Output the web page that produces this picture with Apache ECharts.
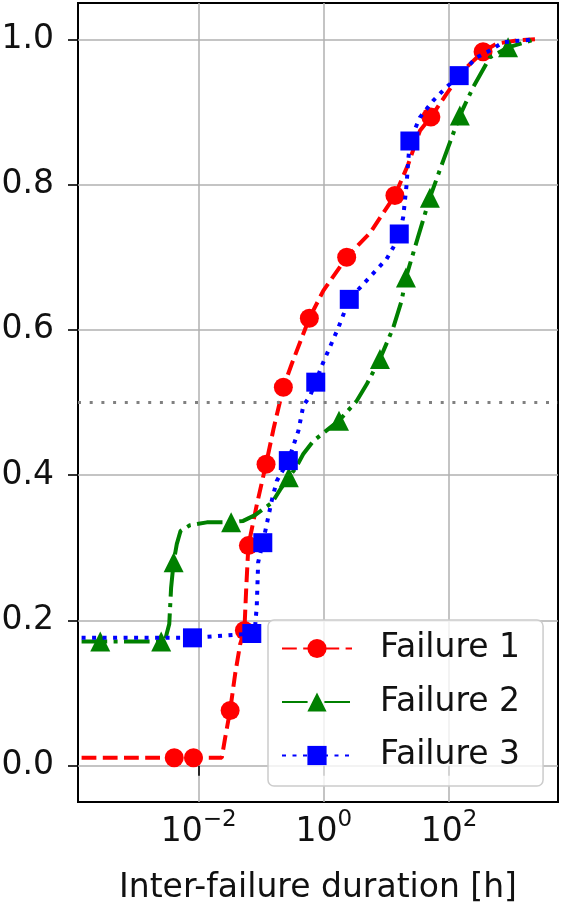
<!DOCTYPE html>
<html>
<head>
<meta charset="utf-8">
<script src="https://cdn.jsdelivr.net/npm/echarts@6/dist/echarts.min.js"></script>
<style>
  html, body { margin: 0; padding: 0; background: #ffffff; }
  #chart { width: 563px; height: 903px; }
</style>
</head>
<body>
<div id="chart"></div>
<script>
// Empirical CDFs of inter-failure durations (hours) for three failure types.
// *LineX / *LineY trace each curve; *MarkX / *MarkY are the marked samples.

const f1LineX = [0.000135, 0.0234, 0.0265, 0.0382, 0.0459, 0.0575, 0.0851, 0.158, 0.306, 0.98, 5.5, 22.2, 34.1, 90.8, 167, 570, 1349, 2344];
const f1LineY = [0.011, 0.011, 0.0386, 0.126, 0.167, 0.245, 0.36, 0.465, 0.553, 0.654, 0.734, 0.828, 0.874, 0.925, 0.957, 0.994, 0.999, 1.0];
const f1MarkX = [0.00407, 0.00826, 0.0318, 0.0537, 0.0622, 0.119, 0.225, 0.585, 2.31, 13.6, 51.1, 348];
const f1MarkY = [0.011, 0.011, 0.076, 0.186, 0.303, 0.415, 0.521, 0.616, 0.700, 0.785, 0.893, 0.983];

const f2LineX = [0.000135, 0.00295, 0.00339, 0.00363, 0.00447, 0.00513, 0.00724, 0.0135, 0.0513, 0.0794, 0.148, 0.2, 0.355, 0.468, 0.676, 3.33, 4.82, 12.8, 17.4, 31.6, 80.4, 241.5, 445.7, 2344];
const f2LineY = [0.171, 0.175, 0.195, 0.245, 0.305, 0.323, 0.331, 0.335, 0.337, 0.345, 0.362, 0.38, 0.41, 0.429, 0.447, 0.502, 0.525, 0.603, 0.640, 0.727, 0.833, 0.934, 0.975, 1.0];
const f2MarkX = [0.000268, 0.00252, 0.00398, 0.033, 0.275, 1.74, 7.85, 20.4, 49.2, 148, 873];
const f2MarkY = [0.171, 0.171, 0.28, 0.335, 0.397, 0.475, 0.560, 0.672, 0.782, 0.895, 0.989];

const f3LineX = [0.000135, 0.0794, 0.0847, 0.0891, 0.147, 0.1766, 0.391, 0.469, 0.600, 0.923, 1.70, 4.25, 10, 12.8, 18.45, 20.9, 22.2, 34.1, 55.6, 85.3, 273.5, 445.7, 726, 2344];
const f3LineY = [0.176, 0.19, 0.22, 0.28, 0.365, 0.392, 0.461, 0.4955, 0.509, 0.5505, 0.603, 0.663, 0.6975, 0.7135, 0.755, 0.80, 0.833, 0.8925, 0.9156, 0.932, 0.975, 0.9845, 0.996, 1.0];
const f3MarkX = [0.00796, 0.0705, 0.1057, 0.270, 0.741, 2.54, 15.96, 23.6, 144.5];
const f3MarkY = [0.176, 0.182, 0.307, 0.420, 0.528, 0.642, 0.732, 0.860, 0.950];

const seriesNames = ['Failure 1', 'Failure 2', 'Failure 3'];
const xTickValues = [0.01, 1, 100];
const yTickValues = [0, 0.2, 0.4, 0.6, 0.8, 1.0];
const medianLevel = 0.5;

const FONT = 'DejaVu Sans';
const INK = '#111111';

// Merge the curve trace with the marked samples; only marked samples get a symbol.
function buildData(lx, ly, mx, my) {
  const pts = [];
  lx.forEach((x, i) => pts.push({ value: [x, ly[i]], symbol: 'none' }));
  mx.forEach((x, i) => pts.push({ value: [x, my[i]] }));
  pts.sort((a, b) => a.value[0] - b.value[0]);
  return pts;
}

function superscriptLabel(v) {
  const exp = Math.round(Math.log10(v));
  return '{b|10}{e|' + String(exp).replace('-', '\u2212') + '}';
}

const chart = echarts.init(document.getElementById('chart'), null, { renderer: 'canvas' });

chart.setOption({
  animation: false,
  backgroundColor: '#ffffff',
  textStyle: { fontFamily: FONT },
  grid: {
    left: 78, right: 5, top: 3, bottom: 101,
    outerBoundsMode: 'none',
    containLabel: false,
    show: true, borderColor: '#000000', borderWidth: 2, backgroundColor: 'transparent'
  },
  legend: {
    orient: 'vertical',
    left: 268, top: 620,
    itemWidth: 70, itemHeight: 24, itemGap: 20.5,
    padding: [12, 23, 14, 13],
    backgroundColor: 'rgba(255,255,255,0.8)',
    borderColor: '#cccccc', borderWidth: 1.5, borderRadius: 6,
    textStyle: { fontSize: 33, fontFamily: FONT, color: INK, padding: [0, 0, 0, 23] },
    data: seriesNames
  },
  xAxis: {
    type: 'log',
    min: Math.pow(10, -3.927),
    max: Math.pow(10, 3.738),
    name: 'Inter-failure duration [h]',
    nameLocation: 'middle',
    nameGap: 70,
    nameTextStyle: { fontSize: 33, fontFamily: FONT, color: INK },
    axisLine: { show: false },
    axisTick: { show: true, inside: false, length: 10, customValues: xTickValues, lineStyle: { color: '#000', width: 1.6 } },
    minorTick: { show: false },
    axisLabel: {
      customValues: xTickValues,
      margin: 7,
      formatter: superscriptLabel,
      rich: {
        b: { fontSize: 33, fontFamily: FONT, color: INK, verticalAlign: 'bottom', lineHeight: 40 },
        e: { fontSize: 23, fontFamily: FONT, color: INK, verticalAlign: 'top', lineHeight: 23 }
      }
    },
    splitLine: { show: true, lineStyle: { color: '#b0b0b0', width: 1.5 } }
  },
  yAxis: {
    type: 'value',
    min: -0.05,
    max: 1.05,
    axisLine: { show: false },
    axisTick: { show: true, inside: false, length: 10, customValues: yTickValues, lineStyle: { color: '#000', width: 1.6 } },
    axisLabel: {
      customValues: yTickValues,
      margin: 24,
      fontSize: 33, fontFamily: FONT, color: INK,
      formatter: v => v.toFixed(1)
    },
    splitLine: { show: true, lineStyle: { color: '#b0b0b0', width: 1.5 } }
  },
  series: [
    {
      name: seriesNames[0],
      type: 'line',
      data: buildData(f1LineX, f1LineY, f1MarkX, f1MarkY),
      symbol: 'circle', symbolSize: 19, showSymbol: true,
      itemStyle: { color: '#ff0000' },
      lineStyle: { color: '#ff0000', width: 4, type: [14.8, 6.4] },
      markLine: {
        silent: true, symbol: ['none', 'none'], label: { show: false },
        lineStyle: { color: '#808080', width: 3, type: [3, 8.7] },
        data: [{ yAxis: medianLevel }]
      },
      z: 3
    },
    {
      name: seriesNames[1],
      type: 'line',
      data: buildData(f2LineX, f2LineY, f2MarkX, f2MarkY),
      symbol: 'triangle', symbolSize: 20, showSymbol: true,
      itemStyle: { color: '#008000' },
      lineStyle: { color: '#008000', width: 4, type: [25.6, 6.4, 4, 6.4] },
      z: 4
    },
    {
      name: seriesNames[2],
      type: 'line',
      data: buildData(f3LineX, f3LineY, f3MarkX, f3MarkY),
      symbol: 'rect', symbolSize: 19, showSymbol: true,
      itemStyle: { color: '#0000ff' },
      lineStyle: { color: '#0000ff', width: 4, type: [4, 6.5] },
      z: 5
    }
  ]
});
</script>
</body>
</html>
